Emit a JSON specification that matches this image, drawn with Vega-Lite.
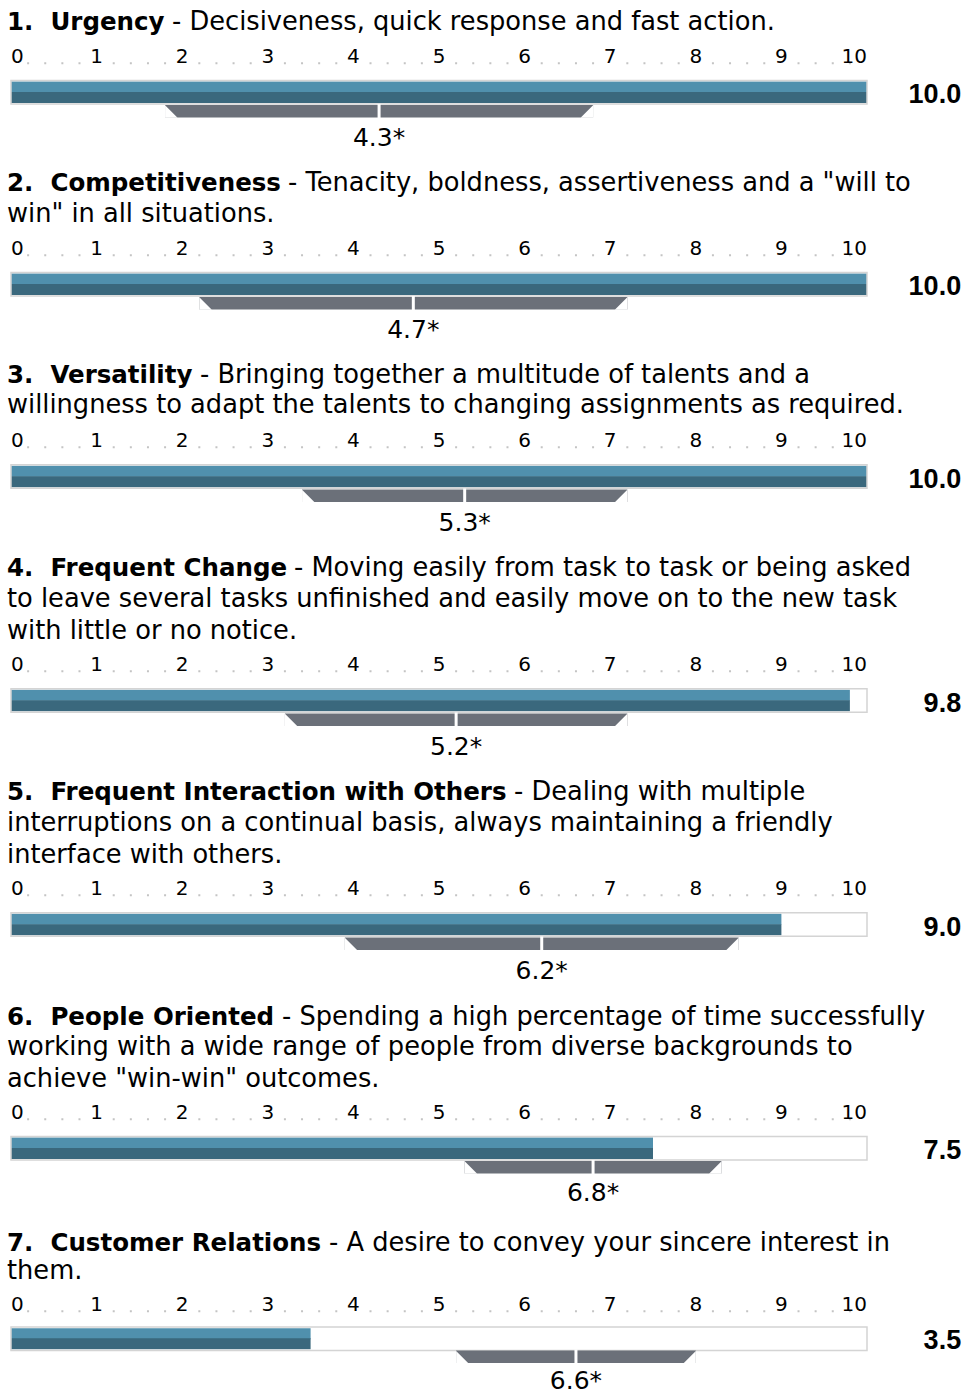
{
  "$schema": "https://vega.github.io/schema/vega-lite/v6.json",
  "autosize": {"type": "pad"},
  "padding": {"left": 7, "top": 8, "right": 0, "bottom": 0},
  "background": "white",
  "spacing": 0,
  "bounds": "flush",
  "config": {"view": {"stroke": null}, "font": "DejaVu Sans"},
  "datasets": {
    "ticks": [{"t": 0}, {"t": 1}, {"t": 2}, {"t": 3}, {"t": 4}, {"t": 5}, {"t": 6}, {"t": 7}, {"t": 8}, {"t": 9}, {"t": 10}],
    "item1": [{"name": "1.\u00a0\u00a0Urgency", "first": "- Decisiveness, quick response and fast action.", "rest": "", "score": 10.0, "mean": 4.3, "meanLabel": "4.3*", "lo": 1.8, "hi": 6.8}],
    "item2": [{"name": "2.\u00a0\u00a0Competitiveness", "first": "- Tenacity, boldness, assertiveness and a \"will to", "rest": "win\" in all situations.", "score": 10.0, "mean": 4.7, "meanLabel": "4.7*", "lo": 2.2, "hi": 7.2}],
    "item3": [{"name": "3.\u00a0\u00a0Versatility", "first": "- Bringing together a multitude of talents and a", "rest": "willingness to adapt the talents to changing assignments as required.", "score": 10.0, "mean": 5.3, "meanLabel": "5.3*", "lo": 3.4, "hi": 7.2}],
    "item4": [{"name": "4.\u00a0\u00a0Frequent Change", "first": "- Moving easily from task to task or being asked", "rest": "to leave several tasks unfinished and easily move on to the new task\nwith little or no notice.", "score": 9.8, "mean": 5.2, "meanLabel": "5.2*", "lo": 3.2, "hi": 7.2}],
    "item5": [{"name": "5.\u00a0\u00a0Frequent Interaction with Others", "first": "- Dealing with multiple", "rest": "interruptions on a continual basis, always maintaining a friendly\ninterface with others.", "score": 9.0, "mean": 6.2, "meanLabel": "6.2*", "lo": 3.9, "hi": 8.5}],
    "item6": [{"name": "6.\u00a0\u00a0People Oriented", "first": "- Spending a high percentage of time successfully", "rest": "working with a wide range of people from diverse backgrounds to\nachieve \"win-win\" outcomes.", "score": 7.5, "mean": 6.8, "meanLabel": "6.8*", "lo": 5.3, "hi": 8.3}],
    "item7": [{"name": "7.\u00a0\u00a0Customer Relations", "first": "- A desire to convey your sincere interest in", "rest": "them.", "score": 3.5, "mean": 6.6, "meanLabel": "6.6*", "lo": 5.2, "hi": 8.0}]
  },
  "vconcat": [
    {
      "width": 856, "height": 192,
      "data": {"name": "item1"},
      "layer": [
        {"mark": {"type": "bar", "orient": "horizontal", "size": 11, "fill": "#5090ad"},
         "encoding": {"x": {"field": "score", "type": "quantitative", "stack": null, "scale": {"domain": [0, 10], "nice": false, "zero": true}, "axis": null},
                      "y": {"datum": 88.75, "type": "quantitative", "scale": {"domain": [63.3, 255.3], "reverse": true, "nice": false, "zero": false}, "axis": null}}},
        {"mark": {"type": "bar", "orient": "horizontal", "size": 11, "fill": "#3a687d"},
         "encoding": {"x": {"field": "score", "type": "quantitative", "stack": null, "axis": null}, "y": {"datum": 99.75, "type": "quantitative", "axis": null}}},
        {"mark": {"type": "bar", "orient": "horizontal", "size": 23.5, "fill": "white", "fillOpacity": 0, "stroke": "#d4d4d4", "strokeWidth": 1.5},
         "encoding": {"x": {"datum": 10, "type": "quantitative", "stack": null, "axis": null}, "y": {"datum": 94.25, "type": "quantitative", "axis": null}}},
        {"mark": {"type": "rule", "stroke": "#c4c4c4", "strokeWidth": 2, "strokeCap": "butt", "strokeDash": [2, 15.12, 2, 15.12, 2, 15.12, 2, 32.24], "strokeDashOffset": 69.48},
         "encoding": {"y": {"datum": 63.5, "type": "quantitative", "axis": null}}},
        {"data": {"name": "ticks"}, "transform": [{"filter": "datum.t > 0 && datum.t < 10"}],
         "mark": {"type": "text", "font": "DejaVu Sans", "fontSize": 20, "align": "center", "baseline": "alphabetic", "color": "#000000"},
         "encoding": {"x": {"field": "t", "type": "quantitative", "axis": null}, "y": {"datum": 63.3, "type": "quantitative", "axis": null}, "text": {"field": "t", "type": "quantitative", "format": "d"}}},
        {"data": {"name": "ticks"}, "transform": [{"filter": "datum.t == 0"}],
         "mark": {"type": "text", "font": "DejaVu Sans", "fontSize": 20, "align": "left", "baseline": "alphabetic", "color": "#000000"},
         "encoding": {"x": {"field": "t", "type": "quantitative", "axis": null}, "y": {"datum": 63.3, "type": "quantitative", "axis": null}, "text": {"field": "t", "type": "quantitative", "format": "d"}}},
        {"data": {"name": "ticks"}, "transform": [{"filter": "datum.t == 10"}],
         "mark": {"type": "text", "font": "DejaVu Sans", "fontSize": 20, "align": "right", "baseline": "alphabetic", "color": "#000000"},
         "encoding": {"x": {"field": "t", "type": "quantitative", "axis": null}, "y": {"datum": 63.3, "type": "quantitative", "axis": null}, "text": {"field": "t", "type": "quantitative", "format": "d"}}},
        {"mark": {"type": "bar", "orient": "horizontal", "size": 12.5, "fill": "#6b7079"},
         "encoding": {"x": {"field": "lo", "type": "quantitative", "axis": null}, "x2": {"field": "hi"}, "y": {"datum": 114.25, "type": "quantitative", "axis": null}}},
        {"mark": {"type": "point", "shape": "M0,0L0,1L1,1Z", "size": 625, "filled": true, "fill": "white", "opacity": 1, "strokeWidth": 0},
         "encoding": {"x": {"field": "lo", "type": "quantitative", "axis": null}, "y": {"datum": 108, "type": "quantitative", "axis": null}}},
        {"mark": {"type": "point", "shape": "M0,0L0,1L-1,1Z", "size": 625, "filled": true, "fill": "white", "opacity": 1, "strokeWidth": 0},
         "encoding": {"x": {"field": "hi", "type": "quantitative", "axis": null}, "y": {"datum": 108, "type": "quantitative", "axis": null}}},
        {"mark": {"type": "tick", "orient": "vertical", "size": 14, "thickness": 3, "color": "white", "opacity": 1},
         "encoding": {"x": {"field": "mean", "type": "quantitative", "axis": null}, "y": {"datum": 114, "type": "quantitative", "axis": null}}},
        {"mark": {"type": "text", "font": "DejaVu Sans", "fontSize": 25, "align": "center", "baseline": "alphabetic", "color": "#000000"},
         "encoding": {"x": {"field": "mean", "type": "quantitative", "axis": null}, "y": {"datum": 151, "type": "quantitative", "axis": null}, "text": {"field": "meanLabel", "type": "nominal"}}},
        {"mark": {"type": "text", "font": "Liberation Sans", "fontWeight": "bold", "fontSize": 27, "align": "right", "baseline": "alphabetic", "color": "#000000"},
         "encoding": {"x": {"datum": 11.1, "type": "quantitative", "axis": null}, "y": {"datum": 106, "type": "quantitative", "axis": null}, "text": {"field": "score", "type": "quantitative", "format": ".1f"}}},
        {"mark": {"type": "text", "font": "DejaVu Sans", "fontWeight": "bold", "fontSize": 24.5, "align": "left", "baseline": "alphabetic", "color": "#000000"},
         "encoding": {"x": {"datum": -0.0467, "type": "quantitative", "axis": null}, "y": {"datum": 28, "type": "quantitative", "axis": null}, "text": {"field": "name", "type": "nominal"}}},
        {"mark": {"type": "text", "font": "DejaVu Sans", "fontSize": 25.7, "align": "left", "baseline": "alphabetic", "color": "#000000", "dx": 165},
         "encoding": {"x": {"datum": -0.0467, "type": "quantitative", "axis": null}, "y": {"datum": 28, "type": "quantitative", "axis": null}, "text": {"field": "first", "type": "nominal"}}}
      ]
    },
    {
      "width": 856, "height": 192,
      "data": {"name": "item2"},
      "layer": [
        {"mark": {"type": "bar", "orient": "horizontal", "size": 11, "fill": "#5090ad"},
         "encoding": {"x": {"field": "score", "type": "quantitative", "stack": null, "scale": {"domain": [0, 10], "nice": false, "zero": true}, "axis": null},
                      "y": {"datum": 120.75, "type": "quantitative", "scale": {"domain": [95.3, 287.3], "reverse": true, "nice": false, "zero": false}, "axis": null}}},
        {"mark": {"type": "bar", "orient": "horizontal", "size": 11, "fill": "#3a687d"},
         "encoding": {"x": {"field": "score", "type": "quantitative", "stack": null, "axis": null}, "y": {"datum": 131.75, "type": "quantitative", "axis": null}}},
        {"mark": {"type": "bar", "orient": "horizontal", "size": 23.5, "fill": "white", "fillOpacity": 0, "stroke": "#d4d4d4", "strokeWidth": 1.5},
         "encoding": {"x": {"datum": 10, "type": "quantitative", "stack": null, "axis": null}, "y": {"datum": 126.25, "type": "quantitative", "axis": null}}},
        {"mark": {"type": "rule", "stroke": "#c4c4c4", "strokeWidth": 2, "strokeCap": "butt", "strokeDash": [2, 15.12, 2, 15.12, 2, 15.12, 2, 32.24], "strokeDashOffset": 69.48},
         "encoding": {"y": {"datum": 95.5, "type": "quantitative", "axis": null}}},
        {"data": {"name": "ticks"}, "transform": [{"filter": "datum.t > 0 && datum.t < 10"}],
         "mark": {"type": "text", "font": "DejaVu Sans", "fontSize": 20, "align": "center", "baseline": "alphabetic", "color": "#000000"},
         "encoding": {"x": {"field": "t", "type": "quantitative", "axis": null}, "y": {"datum": 95.3, "type": "quantitative", "axis": null}, "text": {"field": "t", "type": "quantitative", "format": "d"}}},
        {"data": {"name": "ticks"}, "transform": [{"filter": "datum.t == 0"}],
         "mark": {"type": "text", "font": "DejaVu Sans", "fontSize": 20, "align": "left", "baseline": "alphabetic", "color": "#000000"},
         "encoding": {"x": {"field": "t", "type": "quantitative", "axis": null}, "y": {"datum": 95.3, "type": "quantitative", "axis": null}, "text": {"field": "t", "type": "quantitative", "format": "d"}}},
        {"data": {"name": "ticks"}, "transform": [{"filter": "datum.t == 10"}],
         "mark": {"type": "text", "font": "DejaVu Sans", "fontSize": 20, "align": "right", "baseline": "alphabetic", "color": "#000000"},
         "encoding": {"x": {"field": "t", "type": "quantitative", "axis": null}, "y": {"datum": 95.3, "type": "quantitative", "axis": null}, "text": {"field": "t", "type": "quantitative", "format": "d"}}},
        {"mark": {"type": "bar", "orient": "horizontal", "size": 12.5, "fill": "#6b7079"},
         "encoding": {"x": {"field": "lo", "type": "quantitative", "axis": null}, "x2": {"field": "hi"}, "y": {"datum": 146.25, "type": "quantitative", "axis": null}}},
        {"mark": {"type": "point", "shape": "M0,0L0,1L1,1Z", "size": 625, "filled": true, "fill": "white", "opacity": 1, "strokeWidth": 0},
         "encoding": {"x": {"field": "lo", "type": "quantitative", "axis": null}, "y": {"datum": 140, "type": "quantitative", "axis": null}}},
        {"mark": {"type": "point", "shape": "M0,0L0,1L-1,1Z", "size": 625, "filled": true, "fill": "white", "opacity": 1, "strokeWidth": 0},
         "encoding": {"x": {"field": "hi", "type": "quantitative", "axis": null}, "y": {"datum": 140, "type": "quantitative", "axis": null}}},
        {"mark": {"type": "tick", "orient": "vertical", "size": 14, "thickness": 3, "color": "white", "opacity": 1},
         "encoding": {"x": {"field": "mean", "type": "quantitative", "axis": null}, "y": {"datum": 146, "type": "quantitative", "axis": null}}},
        {"mark": {"type": "text", "font": "DejaVu Sans", "fontSize": 25, "align": "center", "baseline": "alphabetic", "color": "#000000"},
         "encoding": {"x": {"field": "mean", "type": "quantitative", "axis": null}, "y": {"datum": 183, "type": "quantitative", "axis": null}, "text": {"field": "meanLabel", "type": "nominal"}}},
        {"mark": {"type": "text", "font": "Liberation Sans", "fontWeight": "bold", "fontSize": 27, "align": "right", "baseline": "alphabetic", "color": "#000000"},
         "encoding": {"x": {"datum": 11.1, "type": "quantitative", "axis": null}, "y": {"datum": 138, "type": "quantitative", "axis": null}, "text": {"field": "score", "type": "quantitative", "format": ".1f"}}},
        {"mark": {"type": "text", "font": "DejaVu Sans", "fontWeight": "bold", "fontSize": 24.5, "align": "left", "baseline": "alphabetic", "color": "#000000"},
         "encoding": {"x": {"datum": -0.0467, "type": "quantitative", "axis": null}, "y": {"datum": 28, "type": "quantitative", "axis": null}, "text": {"field": "name", "type": "nominal"}}},
        {"mark": {"type": "text", "font": "DejaVu Sans", "fontSize": 25.7, "align": "left", "baseline": "alphabetic", "color": "#000000", "dx": 281},
         "encoding": {"x": {"datum": -0.0467, "type": "quantitative", "axis": null}, "y": {"datum": 28, "type": "quantitative", "axis": null}, "text": {"field": "first", "type": "nominal"}}},
        {"mark": {"type": "text", "font": "DejaVu Sans", "fontSize": 25.7, "align": "left", "baseline": "alphabetic", "color": "#000000", "lineBreak": "\n", "lineHeight": 32},
         "encoding": {"x": {"datum": -0.0467, "type": "quantitative", "axis": null}, "y": {"datum": 60, "type": "quantitative", "axis": null}, "text": {"field": "rest", "type": "nominal"}}}
      ]
    },
    {
      "width": 856, "height": 224,
      "data": {"name": "item3"},
      "layer": [
        {"mark": {"type": "bar", "orient": "horizontal", "size": 11, "fill": "#5090ad"},
         "encoding": {"x": {"field": "score", "type": "quantitative", "stack": null, "scale": {"domain": [0, 10], "nice": false, "zero": true}, "axis": null},
                      "y": {"datum": 120.75, "type": "quantitative", "scale": {"domain": [95.3, 319.3], "reverse": true, "nice": false, "zero": false}, "axis": null}}},
        {"mark": {"type": "bar", "orient": "horizontal", "size": 11, "fill": "#3a687d"},
         "encoding": {"x": {"field": "score", "type": "quantitative", "stack": null, "axis": null}, "y": {"datum": 131.75, "type": "quantitative", "axis": null}}},
        {"mark": {"type": "bar", "orient": "horizontal", "size": 23.5, "fill": "white", "fillOpacity": 0, "stroke": "#d4d4d4", "strokeWidth": 1.5},
         "encoding": {"x": {"datum": 10, "type": "quantitative", "stack": null, "axis": null}, "y": {"datum": 126.25, "type": "quantitative", "axis": null}}},
        {"mark": {"type": "rule", "stroke": "#c4c4c4", "strokeWidth": 2, "strokeCap": "butt", "strokeDash": [2, 15.12, 2, 15.12, 2, 15.12, 2, 32.24], "strokeDashOffset": 69.48},
         "encoding": {"y": {"datum": 95.5, "type": "quantitative", "axis": null}}},
        {"data": {"name": "ticks"}, "transform": [{"filter": "datum.t > 0 && datum.t < 10"}],
         "mark": {"type": "text", "font": "DejaVu Sans", "fontSize": 20, "align": "center", "baseline": "alphabetic", "color": "#000000"},
         "encoding": {"x": {"field": "t", "type": "quantitative", "axis": null}, "y": {"datum": 95.3, "type": "quantitative", "axis": null}, "text": {"field": "t", "type": "quantitative", "format": "d"}}},
        {"data": {"name": "ticks"}, "transform": [{"filter": "datum.t == 0"}],
         "mark": {"type": "text", "font": "DejaVu Sans", "fontSize": 20, "align": "left", "baseline": "alphabetic", "color": "#000000"},
         "encoding": {"x": {"field": "t", "type": "quantitative", "axis": null}, "y": {"datum": 95.3, "type": "quantitative", "axis": null}, "text": {"field": "t", "type": "quantitative", "format": "d"}}},
        {"data": {"name": "ticks"}, "transform": [{"filter": "datum.t == 10"}],
         "mark": {"type": "text", "font": "DejaVu Sans", "fontSize": 20, "align": "right", "baseline": "alphabetic", "color": "#000000"},
         "encoding": {"x": {"field": "t", "type": "quantitative", "axis": null}, "y": {"datum": 95.3, "type": "quantitative", "axis": null}, "text": {"field": "t", "type": "quantitative", "format": "d"}}},
        {"mark": {"type": "bar", "orient": "horizontal", "size": 12.5, "fill": "#6b7079"},
         "encoding": {"x": {"field": "lo", "type": "quantitative", "axis": null}, "x2": {"field": "hi"}, "y": {"datum": 146.25, "type": "quantitative", "axis": null}}},
        {"mark": {"type": "point", "shape": "M0,0L0,1L1,1Z", "size": 625, "filled": true, "fill": "white", "opacity": 1, "strokeWidth": 0},
         "encoding": {"x": {"field": "lo", "type": "quantitative", "axis": null}, "y": {"datum": 140, "type": "quantitative", "axis": null}}},
        {"mark": {"type": "point", "shape": "M0,0L0,1L-1,1Z", "size": 625, "filled": true, "fill": "white", "opacity": 1, "strokeWidth": 0},
         "encoding": {"x": {"field": "hi", "type": "quantitative", "axis": null}, "y": {"datum": 140, "type": "quantitative", "axis": null}}},
        {"mark": {"type": "tick", "orient": "vertical", "size": 14, "thickness": 3, "color": "white", "opacity": 1},
         "encoding": {"x": {"field": "mean", "type": "quantitative", "axis": null}, "y": {"datum": 146, "type": "quantitative", "axis": null}}},
        {"mark": {"type": "text", "font": "DejaVu Sans", "fontSize": 25, "align": "center", "baseline": "alphabetic", "color": "#000000"},
         "encoding": {"x": {"field": "mean", "type": "quantitative", "axis": null}, "y": {"datum": 183, "type": "quantitative", "axis": null}, "text": {"field": "meanLabel", "type": "nominal"}}},
        {"mark": {"type": "text", "font": "Liberation Sans", "fontWeight": "bold", "fontSize": 27, "align": "right", "baseline": "alphabetic", "color": "#000000"},
         "encoding": {"x": {"datum": 11.1, "type": "quantitative", "axis": null}, "y": {"datum": 138, "type": "quantitative", "axis": null}, "text": {"field": "score", "type": "quantitative", "format": ".1f"}}},
        {"mark": {"type": "text", "font": "DejaVu Sans", "fontWeight": "bold", "fontSize": 24.5, "align": "left", "baseline": "alphabetic", "color": "#000000"},
         "encoding": {"x": {"datum": -0.0467, "type": "quantitative", "axis": null}, "y": {"datum": 28, "type": "quantitative", "axis": null}, "text": {"field": "name", "type": "nominal"}}},
        {"mark": {"type": "text", "font": "DejaVu Sans", "fontSize": 25.7, "align": "left", "baseline": "alphabetic", "color": "#000000", "dx": 193},
         "encoding": {"x": {"datum": -0.0467, "type": "quantitative", "axis": null}, "y": {"datum": 28, "type": "quantitative", "axis": null}, "text": {"field": "first", "type": "nominal"}}},
        {"mark": {"type": "text", "font": "DejaVu Sans", "fontSize": 25.7, "align": "left", "baseline": "alphabetic", "color": "#000000", "lineBreak": "\n", "lineHeight": 32},
         "encoding": {"x": {"datum": -0.0467, "type": "quantitative", "axis": null}, "y": {"datum": 60, "type": "quantitative", "axis": null}, "text": {"field": "rest", "type": "nominal"}}}
      ]
    },
    {
      "width": 856, "height": 224,
      "data": {"name": "item4"},
      "layer": [
        {"mark": {"type": "bar", "orient": "horizontal", "size": 11, "fill": "#5090ad"},
         "encoding": {"x": {"field": "score", "type": "quantitative", "stack": null, "scale": {"domain": [0, 10], "nice": false, "zero": true}, "axis": null},
                      "y": {"datum": 152.75, "type": "quantitative", "scale": {"domain": [127.3, 351.3], "reverse": true, "nice": false, "zero": false}, "axis": null}}},
        {"mark": {"type": "bar", "orient": "horizontal", "size": 11, "fill": "#3a687d"},
         "encoding": {"x": {"field": "score", "type": "quantitative", "stack": null, "axis": null}, "y": {"datum": 163.75, "type": "quantitative", "axis": null}}},
        {"mark": {"type": "bar", "orient": "horizontal", "size": 23.5, "fill": "white", "fillOpacity": 0, "stroke": "#d4d4d4", "strokeWidth": 1.5},
         "encoding": {"x": {"datum": 10, "type": "quantitative", "stack": null, "axis": null}, "y": {"datum": 158.25, "type": "quantitative", "axis": null}}},
        {"mark": {"type": "rule", "stroke": "#c4c4c4", "strokeWidth": 2, "strokeCap": "butt", "strokeDash": [2, 15.12, 2, 15.12, 2, 15.12, 2, 32.24], "strokeDashOffset": 69.48},
         "encoding": {"y": {"datum": 127.5, "type": "quantitative", "axis": null}}},
        {"data": {"name": "ticks"}, "transform": [{"filter": "datum.t > 0 && datum.t < 10"}],
         "mark": {"type": "text", "font": "DejaVu Sans", "fontSize": 20, "align": "center", "baseline": "alphabetic", "color": "#000000"},
         "encoding": {"x": {"field": "t", "type": "quantitative", "axis": null}, "y": {"datum": 127.3, "type": "quantitative", "axis": null}, "text": {"field": "t", "type": "quantitative", "format": "d"}}},
        {"data": {"name": "ticks"}, "transform": [{"filter": "datum.t == 0"}],
         "mark": {"type": "text", "font": "DejaVu Sans", "fontSize": 20, "align": "left", "baseline": "alphabetic", "color": "#000000"},
         "encoding": {"x": {"field": "t", "type": "quantitative", "axis": null}, "y": {"datum": 127.3, "type": "quantitative", "axis": null}, "text": {"field": "t", "type": "quantitative", "format": "d"}}},
        {"data": {"name": "ticks"}, "transform": [{"filter": "datum.t == 10"}],
         "mark": {"type": "text", "font": "DejaVu Sans", "fontSize": 20, "align": "right", "baseline": "alphabetic", "color": "#000000"},
         "encoding": {"x": {"field": "t", "type": "quantitative", "axis": null}, "y": {"datum": 127.3, "type": "quantitative", "axis": null}, "text": {"field": "t", "type": "quantitative", "format": "d"}}},
        {"mark": {"type": "bar", "orient": "horizontal", "size": 12.5, "fill": "#6b7079"},
         "encoding": {"x": {"field": "lo", "type": "quantitative", "axis": null}, "x2": {"field": "hi"}, "y": {"datum": 178.25, "type": "quantitative", "axis": null}}},
        {"mark": {"type": "point", "shape": "M0,0L0,1L1,1Z", "size": 625, "filled": true, "fill": "white", "opacity": 1, "strokeWidth": 0},
         "encoding": {"x": {"field": "lo", "type": "quantitative", "axis": null}, "y": {"datum": 172, "type": "quantitative", "axis": null}}},
        {"mark": {"type": "point", "shape": "M0,0L0,1L-1,1Z", "size": 625, "filled": true, "fill": "white", "opacity": 1, "strokeWidth": 0},
         "encoding": {"x": {"field": "hi", "type": "quantitative", "axis": null}, "y": {"datum": 172, "type": "quantitative", "axis": null}}},
        {"mark": {"type": "tick", "orient": "vertical", "size": 14, "thickness": 3, "color": "white", "opacity": 1},
         "encoding": {"x": {"field": "mean", "type": "quantitative", "axis": null}, "y": {"datum": 178, "type": "quantitative", "axis": null}}},
        {"mark": {"type": "text", "font": "DejaVu Sans", "fontSize": 25, "align": "center", "baseline": "alphabetic", "color": "#000000"},
         "encoding": {"x": {"field": "mean", "type": "quantitative", "axis": null}, "y": {"datum": 215, "type": "quantitative", "axis": null}, "text": {"field": "meanLabel", "type": "nominal"}}},
        {"mark": {"type": "text", "font": "Liberation Sans", "fontWeight": "bold", "fontSize": 27, "align": "right", "baseline": "alphabetic", "color": "#000000"},
         "encoding": {"x": {"datum": 11.1, "type": "quantitative", "axis": null}, "y": {"datum": 170, "type": "quantitative", "axis": null}, "text": {"field": "score", "type": "quantitative", "format": ".1f"}}},
        {"mark": {"type": "text", "font": "DejaVu Sans", "fontWeight": "bold", "fontSize": 24.5, "align": "left", "baseline": "alphabetic", "color": "#000000"},
         "encoding": {"x": {"datum": -0.0467, "type": "quantitative", "axis": null}, "y": {"datum": 28, "type": "quantitative", "axis": null}, "text": {"field": "name", "type": "nominal"}}},
        {"mark": {"type": "text", "font": "DejaVu Sans", "fontSize": 25.7, "align": "left", "baseline": "alphabetic", "color": "#000000", "dx": 287},
         "encoding": {"x": {"datum": -0.0467, "type": "quantitative", "axis": null}, "y": {"datum": 28, "type": "quantitative", "axis": null}, "text": {"field": "first", "type": "nominal"}}},
        {"mark": {"type": "text", "font": "DejaVu Sans", "fontSize": 25.7, "align": "left", "baseline": "alphabetic", "color": "#000000", "lineBreak": "\n", "lineHeight": 32},
         "encoding": {"x": {"datum": -0.0467, "type": "quantitative", "axis": null}, "y": {"datum": 60, "type": "quantitative", "axis": null}, "text": {"field": "rest", "type": "nominal"}}}
      ]
    },
    {
      "width": 856, "height": 224,
      "data": {"name": "item5"},
      "layer": [
        {"mark": {"type": "bar", "orient": "horizontal", "size": 11, "fill": "#5090ad"},
         "encoding": {"x": {"field": "score", "type": "quantitative", "stack": null, "scale": {"domain": [0, 10], "nice": false, "zero": true}, "axis": null},
                      "y": {"datum": 152.75, "type": "quantitative", "scale": {"domain": [127.3, 351.3], "reverse": true, "nice": false, "zero": false}, "axis": null}}},
        {"mark": {"type": "bar", "orient": "horizontal", "size": 11, "fill": "#3a687d"},
         "encoding": {"x": {"field": "score", "type": "quantitative", "stack": null, "axis": null}, "y": {"datum": 163.75, "type": "quantitative", "axis": null}}},
        {"mark": {"type": "bar", "orient": "horizontal", "size": 23.5, "fill": "white", "fillOpacity": 0, "stroke": "#d4d4d4", "strokeWidth": 1.5},
         "encoding": {"x": {"datum": 10, "type": "quantitative", "stack": null, "axis": null}, "y": {"datum": 158.25, "type": "quantitative", "axis": null}}},
        {"mark": {"type": "rule", "stroke": "#c4c4c4", "strokeWidth": 2, "strokeCap": "butt", "strokeDash": [2, 15.12, 2, 15.12, 2, 15.12, 2, 32.24], "strokeDashOffset": 69.48},
         "encoding": {"y": {"datum": 127.5, "type": "quantitative", "axis": null}}},
        {"data": {"name": "ticks"}, "transform": [{"filter": "datum.t > 0 && datum.t < 10"}],
         "mark": {"type": "text", "font": "DejaVu Sans", "fontSize": 20, "align": "center", "baseline": "alphabetic", "color": "#000000"},
         "encoding": {"x": {"field": "t", "type": "quantitative", "axis": null}, "y": {"datum": 127.3, "type": "quantitative", "axis": null}, "text": {"field": "t", "type": "quantitative", "format": "d"}}},
        {"data": {"name": "ticks"}, "transform": [{"filter": "datum.t == 0"}],
         "mark": {"type": "text", "font": "DejaVu Sans", "fontSize": 20, "align": "left", "baseline": "alphabetic", "color": "#000000"},
         "encoding": {"x": {"field": "t", "type": "quantitative", "axis": null}, "y": {"datum": 127.3, "type": "quantitative", "axis": null}, "text": {"field": "t", "type": "quantitative", "format": "d"}}},
        {"data": {"name": "ticks"}, "transform": [{"filter": "datum.t == 10"}],
         "mark": {"type": "text", "font": "DejaVu Sans", "fontSize": 20, "align": "right", "baseline": "alphabetic", "color": "#000000"},
         "encoding": {"x": {"field": "t", "type": "quantitative", "axis": null}, "y": {"datum": 127.3, "type": "quantitative", "axis": null}, "text": {"field": "t", "type": "quantitative", "format": "d"}}},
        {"mark": {"type": "bar", "orient": "horizontal", "size": 12.5, "fill": "#6b7079"},
         "encoding": {"x": {"field": "lo", "type": "quantitative", "axis": null}, "x2": {"field": "hi"}, "y": {"datum": 178.25, "type": "quantitative", "axis": null}}},
        {"mark": {"type": "point", "shape": "M0,0L0,1L1,1Z", "size": 625, "filled": true, "fill": "white", "opacity": 1, "strokeWidth": 0},
         "encoding": {"x": {"field": "lo", "type": "quantitative", "axis": null}, "y": {"datum": 172, "type": "quantitative", "axis": null}}},
        {"mark": {"type": "point", "shape": "M0,0L0,1L-1,1Z", "size": 625, "filled": true, "fill": "white", "opacity": 1, "strokeWidth": 0},
         "encoding": {"x": {"field": "hi", "type": "quantitative", "axis": null}, "y": {"datum": 172, "type": "quantitative", "axis": null}}},
        {"mark": {"type": "tick", "orient": "vertical", "size": 14, "thickness": 3, "color": "white", "opacity": 1},
         "encoding": {"x": {"field": "mean", "type": "quantitative", "axis": null}, "y": {"datum": 178, "type": "quantitative", "axis": null}}},
        {"mark": {"type": "text", "font": "DejaVu Sans", "fontSize": 25, "align": "center", "baseline": "alphabetic", "color": "#000000"},
         "encoding": {"x": {"field": "mean", "type": "quantitative", "axis": null}, "y": {"datum": 215, "type": "quantitative", "axis": null}, "text": {"field": "meanLabel", "type": "nominal"}}},
        {"mark": {"type": "text", "font": "Liberation Sans", "fontWeight": "bold", "fontSize": 27, "align": "right", "baseline": "alphabetic", "color": "#000000"},
         "encoding": {"x": {"datum": 11.1, "type": "quantitative", "axis": null}, "y": {"datum": 170, "type": "quantitative", "axis": null}, "text": {"field": "score", "type": "quantitative", "format": ".1f"}}},
        {"mark": {"type": "text", "font": "DejaVu Sans", "fontWeight": "bold", "fontSize": 24.5, "align": "left", "baseline": "alphabetic", "color": "#000000"},
         "encoding": {"x": {"datum": -0.0467, "type": "quantitative", "axis": null}, "y": {"datum": 28, "type": "quantitative", "axis": null}, "text": {"field": "name", "type": "nominal"}}},
        {"mark": {"type": "text", "font": "DejaVu Sans", "fontSize": 25.7, "align": "left", "baseline": "alphabetic", "color": "#000000", "dx": 507},
         "encoding": {"x": {"datum": -0.0467, "type": "quantitative", "axis": null}, "y": {"datum": 28, "type": "quantitative", "axis": null}, "text": {"field": "first", "type": "nominal"}}},
        {"mark": {"type": "text", "font": "DejaVu Sans", "fontSize": 25.7, "align": "left", "baseline": "alphabetic", "color": "#000000", "lineBreak": "\n", "lineHeight": 32},
         "encoding": {"x": {"datum": -0.0467, "type": "quantitative", "axis": null}, "y": {"datum": 60, "type": "quantitative", "axis": null}, "text": {"field": "rest", "type": "nominal"}}}
      ]
    },
    {
      "width": 856, "height": 192,
      "data": {"name": "item6"},
      "layer": [
        {"mark": {"type": "bar", "orient": "horizontal", "size": 11, "fill": "#5090ad"},
         "encoding": {"x": {"field": "score", "type": "quantitative", "stack": null, "scale": {"domain": [0, 10], "nice": false, "zero": true}, "axis": null},
                      "y": {"datum": 152.75, "type": "quantitative", "scale": {"domain": [127.3, 319.3], "reverse": true, "nice": false, "zero": false}, "axis": null}}},
        {"mark": {"type": "bar", "orient": "horizontal", "size": 11, "fill": "#3a687d"},
         "encoding": {"x": {"field": "score", "type": "quantitative", "stack": null, "axis": null}, "y": {"datum": 163.75, "type": "quantitative", "axis": null}}},
        {"mark": {"type": "bar", "orient": "horizontal", "size": 23.5, "fill": "white", "fillOpacity": 0, "stroke": "#d4d4d4", "strokeWidth": 1.5},
         "encoding": {"x": {"datum": 10, "type": "quantitative", "stack": null, "axis": null}, "y": {"datum": 158.25, "type": "quantitative", "axis": null}}},
        {"mark": {"type": "rule", "stroke": "#c4c4c4", "strokeWidth": 2, "strokeCap": "butt", "strokeDash": [2, 15.12, 2, 15.12, 2, 15.12, 2, 32.24], "strokeDashOffset": 69.48},
         "encoding": {"y": {"datum": 127.5, "type": "quantitative", "axis": null}}},
        {"data": {"name": "ticks"}, "transform": [{"filter": "datum.t > 0 && datum.t < 10"}],
         "mark": {"type": "text", "font": "DejaVu Sans", "fontSize": 20, "align": "center", "baseline": "alphabetic", "color": "#000000"},
         "encoding": {"x": {"field": "t", "type": "quantitative", "axis": null}, "y": {"datum": 127.3, "type": "quantitative", "axis": null}, "text": {"field": "t", "type": "quantitative", "format": "d"}}},
        {"data": {"name": "ticks"}, "transform": [{"filter": "datum.t == 0"}],
         "mark": {"type": "text", "font": "DejaVu Sans", "fontSize": 20, "align": "left", "baseline": "alphabetic", "color": "#000000"},
         "encoding": {"x": {"field": "t", "type": "quantitative", "axis": null}, "y": {"datum": 127.3, "type": "quantitative", "axis": null}, "text": {"field": "t", "type": "quantitative", "format": "d"}}},
        {"data": {"name": "ticks"}, "transform": [{"filter": "datum.t == 10"}],
         "mark": {"type": "text", "font": "DejaVu Sans", "fontSize": 20, "align": "right", "baseline": "alphabetic", "color": "#000000"},
         "encoding": {"x": {"field": "t", "type": "quantitative", "axis": null}, "y": {"datum": 127.3, "type": "quantitative", "axis": null}, "text": {"field": "t", "type": "quantitative", "format": "d"}}},
        {"mark": {"type": "bar", "orient": "horizontal", "size": 12.5, "fill": "#6b7079"},
         "encoding": {"x": {"field": "lo", "type": "quantitative", "axis": null}, "x2": {"field": "hi"}, "y": {"datum": 178.25, "type": "quantitative", "axis": null}}},
        {"mark": {"type": "point", "shape": "M0,0L0,1L1,1Z", "size": 625, "filled": true, "fill": "white", "opacity": 1, "strokeWidth": 0},
         "encoding": {"x": {"field": "lo", "type": "quantitative", "axis": null}, "y": {"datum": 172, "type": "quantitative", "axis": null}}},
        {"mark": {"type": "point", "shape": "M0,0L0,1L-1,1Z", "size": 625, "filled": true, "fill": "white", "opacity": 1, "strokeWidth": 0},
         "encoding": {"x": {"field": "hi", "type": "quantitative", "axis": null}, "y": {"datum": 172, "type": "quantitative", "axis": null}}},
        {"mark": {"type": "tick", "orient": "vertical", "size": 14, "thickness": 3, "color": "white", "opacity": 1},
         "encoding": {"x": {"field": "mean", "type": "quantitative", "axis": null}, "y": {"datum": 178, "type": "quantitative", "axis": null}}},
        {"mark": {"type": "text", "font": "DejaVu Sans", "fontSize": 25, "align": "center", "baseline": "alphabetic", "color": "#000000"},
         "encoding": {"x": {"field": "mean", "type": "quantitative", "axis": null}, "y": {"datum": 213.5, "type": "quantitative", "axis": null}, "text": {"field": "meanLabel", "type": "nominal"}}},
        {"mark": {"type": "text", "font": "Liberation Sans", "fontWeight": "bold", "fontSize": 27, "align": "right", "baseline": "alphabetic", "color": "#000000"},
         "encoding": {"x": {"datum": 11.1, "type": "quantitative", "axis": null}, "y": {"datum": 170, "type": "quantitative", "axis": null}, "text": {"field": "score", "type": "quantitative", "format": ".1f"}}},
        {"mark": {"type": "text", "font": "DejaVu Sans", "fontWeight": "bold", "fontSize": 24.5, "align": "left", "baseline": "alphabetic", "color": "#000000"},
         "encoding": {"x": {"datum": -0.0467, "type": "quantitative", "axis": null}, "y": {"datum": 28, "type": "quantitative", "axis": null}, "text": {"field": "name", "type": "nominal"}}},
        {"mark": {"type": "text", "font": "DejaVu Sans", "fontSize": 25.7, "align": "left", "baseline": "alphabetic", "color": "#000000", "dx": 275},
         "encoding": {"x": {"datum": -0.0467, "type": "quantitative", "axis": null}, "y": {"datum": 28, "type": "quantitative", "axis": null}, "text": {"field": "first", "type": "nominal"}}},
        {"mark": {"type": "text", "font": "DejaVu Sans", "fontSize": 25.7, "align": "left", "baseline": "alphabetic", "color": "#000000", "lineBreak": "\n", "lineHeight": 32},
         "encoding": {"x": {"datum": -0.0467, "type": "quantitative", "axis": null}, "y": {"datum": 60, "type": "quantitative", "axis": null}, "text": {"field": "rest", "type": "nominal"}}}
      ]
    },
    {
      "width": 856, "height": 96,
      "data": {"name": "item7"},
      "layer": [
        {"mark": {"type": "bar", "orient": "horizontal", "size": 11, "fill": "#5090ad"},
         "encoding": {"x": {"field": "score", "type": "quantitative", "stack": null, "scale": {"domain": [0, 10], "nice": false, "zero": true}, "axis": null},
                      "y": {"datum": 120.75, "type": "quantitative", "scale": {"domain": [95.3, 191.3], "reverse": true, "nice": false, "zero": false}, "axis": null}}},
        {"mark": {"type": "bar", "orient": "horizontal", "size": 11, "fill": "#3a687d"},
         "encoding": {"x": {"field": "score", "type": "quantitative", "stack": null, "axis": null}, "y": {"datum": 131.75, "type": "quantitative", "axis": null}}},
        {"mark": {"type": "bar", "orient": "horizontal", "size": 23.5, "fill": "white", "fillOpacity": 0, "stroke": "#d4d4d4", "strokeWidth": 1.5},
         "encoding": {"x": {"datum": 10, "type": "quantitative", "stack": null, "axis": null}, "y": {"datum": 126.25, "type": "quantitative", "axis": null}}},
        {"mark": {"type": "rule", "stroke": "#c4c4c4", "strokeWidth": 2, "strokeCap": "butt", "strokeDash": [2, 15.12, 2, 15.12, 2, 15.12, 2, 32.24], "strokeDashOffset": 69.48},
         "encoding": {"y": {"datum": 95.5, "type": "quantitative", "axis": null}}},
        {"data": {"name": "ticks"}, "transform": [{"filter": "datum.t > 0 && datum.t < 10"}],
         "mark": {"type": "text", "font": "DejaVu Sans", "fontSize": 20, "align": "center", "baseline": "alphabetic", "color": "#000000"},
         "encoding": {"x": {"field": "t", "type": "quantitative", "axis": null}, "y": {"datum": 95.3, "type": "quantitative", "axis": null}, "text": {"field": "t", "type": "quantitative", "format": "d"}}},
        {"data": {"name": "ticks"}, "transform": [{"filter": "datum.t == 0"}],
         "mark": {"type": "text", "font": "DejaVu Sans", "fontSize": 20, "align": "left", "baseline": "alphabetic", "color": "#000000"},
         "encoding": {"x": {"field": "t", "type": "quantitative", "axis": null}, "y": {"datum": 95.3, "type": "quantitative", "axis": null}, "text": {"field": "t", "type": "quantitative", "format": "d"}}},
        {"data": {"name": "ticks"}, "transform": [{"filter": "datum.t == 10"}],
         "mark": {"type": "text", "font": "DejaVu Sans", "fontSize": 20, "align": "right", "baseline": "alphabetic", "color": "#000000"},
         "encoding": {"x": {"field": "t", "type": "quantitative", "axis": null}, "y": {"datum": 95.3, "type": "quantitative", "axis": null}, "text": {"field": "t", "type": "quantitative", "format": "d"}}},
        {"mark": {"type": "bar", "orient": "horizontal", "size": 12.5, "fill": "#6b7079"},
         "encoding": {"x": {"field": "lo", "type": "quantitative", "axis": null}, "x2": {"field": "hi"}, "y": {"datum": 146.25, "type": "quantitative", "axis": null}}},
        {"mark": {"type": "point", "shape": "M0,0L0,1L1,1Z", "size": 625, "filled": true, "fill": "white", "opacity": 1, "strokeWidth": 0},
         "encoding": {"x": {"field": "lo", "type": "quantitative", "axis": null}, "y": {"datum": 140, "type": "quantitative", "axis": null}}},
        {"mark": {"type": "point", "shape": "M0,0L0,1L-1,1Z", "size": 625, "filled": true, "fill": "white", "opacity": 1, "strokeWidth": 0},
         "encoding": {"x": {"field": "hi", "type": "quantitative", "axis": null}, "y": {"datum": 140, "type": "quantitative", "axis": null}}},
        {"mark": {"type": "tick", "orient": "vertical", "size": 14, "thickness": 3, "color": "white", "opacity": 1},
         "encoding": {"x": {"field": "mean", "type": "quantitative", "axis": null}, "y": {"datum": 146, "type": "quantitative", "axis": null}}},
        {"mark": {"type": "text", "font": "DejaVu Sans", "fontSize": 25, "align": "center", "baseline": "alphabetic", "color": "#000000"},
         "encoding": {"x": {"field": "mean", "type": "quantitative", "axis": null}, "y": {"datum": 182.5, "type": "quantitative", "axis": null}, "text": {"field": "meanLabel", "type": "nominal"}}},
        {"mark": {"type": "text", "font": "Liberation Sans", "fontWeight": "bold", "fontSize": 27, "align": "right", "baseline": "alphabetic", "color": "#000000"},
         "encoding": {"x": {"datum": 11.1, "type": "quantitative", "axis": null}, "y": {"datum": 138, "type": "quantitative", "axis": null}, "text": {"field": "score", "type": "quantitative", "format": ".1f"}}},
        {"mark": {"type": "text", "font": "DejaVu Sans", "fontWeight": "bold", "fontSize": 24.5, "align": "left", "baseline": "alphabetic", "color": "#000000"},
         "encoding": {"x": {"datum": -0.0467, "type": "quantitative", "axis": null}, "y": {"datum": 28, "type": "quantitative", "axis": null}, "text": {"field": "name", "type": "nominal"}}},
        {"mark": {"type": "text", "font": "DejaVu Sans", "fontSize": 25.7, "align": "left", "baseline": "alphabetic", "color": "#000000", "dx": 322},
         "encoding": {"x": {"datum": -0.0467, "type": "quantitative", "axis": null}, "y": {"datum": 28, "type": "quantitative", "axis": null}, "text": {"field": "first", "type": "nominal"}}},
        {"mark": {"type": "text", "font": "DejaVu Sans", "fontSize": 25.7, "align": "left", "baseline": "alphabetic", "color": "#000000", "lineBreak": "\n", "lineHeight": 32},
         "encoding": {"x": {"datum": -0.0467, "type": "quantitative", "axis": null}, "y": {"datum": 60, "type": "quantitative", "axis": null}, "text": {"field": "rest", "type": "nominal"}}}
      ]
    }
  ]
}
